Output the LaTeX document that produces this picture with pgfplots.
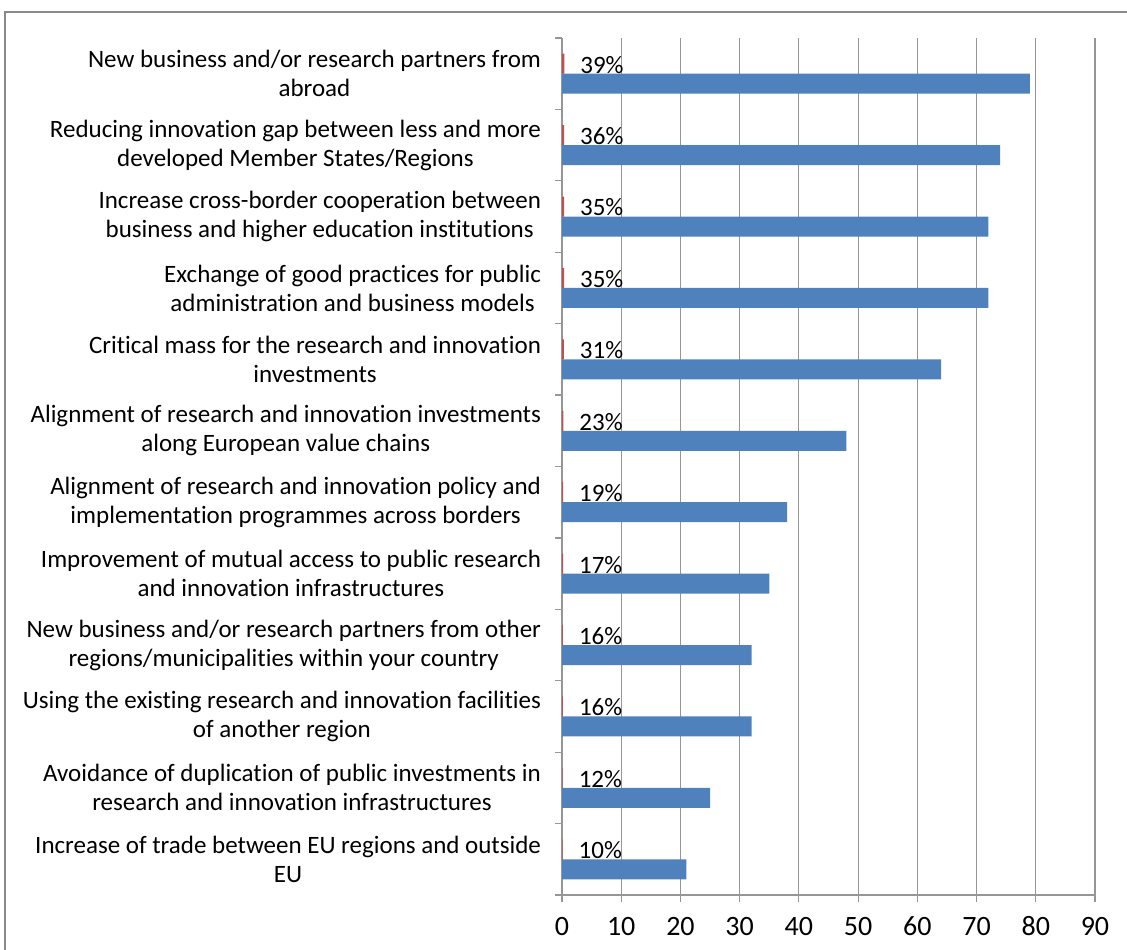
\documentclass[border=0pt]{standalone}
\usepackage{fontspec}
\setmainfont{Carlito}[Ligatures=NoCommon]
\usepackage{pgfplots}
\pgfplotsset{compat=1.18}
\definecolor{barblue}{HTML}{4F81BD}
\definecolor{barred}{HTML}{C0504D}
\definecolor{gridgray}{HTML}{969696}
\definecolor{framegray}{HTML}{8A8A8A}
\begin{document}
\begin{tikzpicture}
\useasboundingbox (0,0) rectangle (563.5pt,474.5pt);
\draw[framegray, line width=1pt] (2.5pt,-20pt) rectangle (600pt,468.5pt);
\begin{axis}[
  at={(281pt,27pt)}, anchor=south west,
  scale only axis, width=266.5pt, height=428.5pt,
  xbar, bar width=0.28,
  xmin=0, xmax=90, ymin=-0.5, ymax=11.5, y dir=reverse,
  axis x line*=bottom, axis y line*=left,
  axis line style={gridgray, line width=0.6pt, -},
  xtick={0,10,20,30,40,50,60,70,80,90}, xmajorgrids,
  xticklabels={0,10,20,30,40,50,60,70,80,90},
  grid style={gridgray, line width=0.6pt},
  tick align=outside,
  major tick length=3.5pt, minor tick length=3.5pt,
  x tick style={gridgray, line width=0.6pt},
  ytick={0,...,11},
  major y tick style={draw=none},
  minor ytick={-0.5,0.5,...,11.5},
  minor y tick style={gridgray, line width=0.6pt},
  xticklabel style={font=\fontsize{14}{16}\selectfont, anchor=north, text height=9pt, text depth=0pt, yshift=-4pt},
  yticklabel style={align=center, font=\fontsize{12.5}{14.5}\selectfont, xshift=-3.5pt},
  yticklabels={
    {New business and/or research partners from\\abroad},
    {Reducing innovation gap between less and more\\developed Member States/Regions},
    {Increase cross-border cooperation between\\business and higher education institutions},
    {Exchange of good practices for public\\administration and business models},
    {Critical mass for the research and innovation\\investments},
    {Alignment of research and innovation investments\\along European value chains},
    {Alignment of research and innovation policy and\\implementation programmes across borders},
    {Improvement of mutual access to public research\\and innovation infrastructures},
    {New business and/or research partners from other\\regions/municipalities within your country},
    {Using the existing research and innovation facilities\\of another region},
    {Avoidance of duplication of public investments in\\research and innovation infrastructures},
    {Increase of trade between EU regions and outside\\EU}
  },
]
\addplot[fill=barblue, draw=none, bar shift=0.14] coordinates {
  (79,0) (74,1) (72,2) (72,3) (64,4) (48,5) (38,6) (35,7) (32,8) (32,9) (25,10) (21,11)
};
\addplot[fill=barred, draw=none, bar shift=-0.14,
  nodes near coords, point meta=explicit symbolic,
  nodes near coords style={anchor=west, font=\fontsize{12.5}{14}\selectfont, xshift=4.5pt, yshift=-0.5pt, text=black}]
  coordinates {
  (0.39,0) [39\%] (0.36,1) [36\%] (0.35,2) [35\%] (0.35,3) [35\%]
  (0.31,4) [31\%] (0.23,5) [23\%] (0.19,6) [19\%] (0.17,7) [17\%]
  (0.16,8) [16\%] (0.16,9) [16\%] (0.12,10) [12\%] (0.10,11) [10\%]
};
\end{axis}
\end{tikzpicture}
\end{document}
